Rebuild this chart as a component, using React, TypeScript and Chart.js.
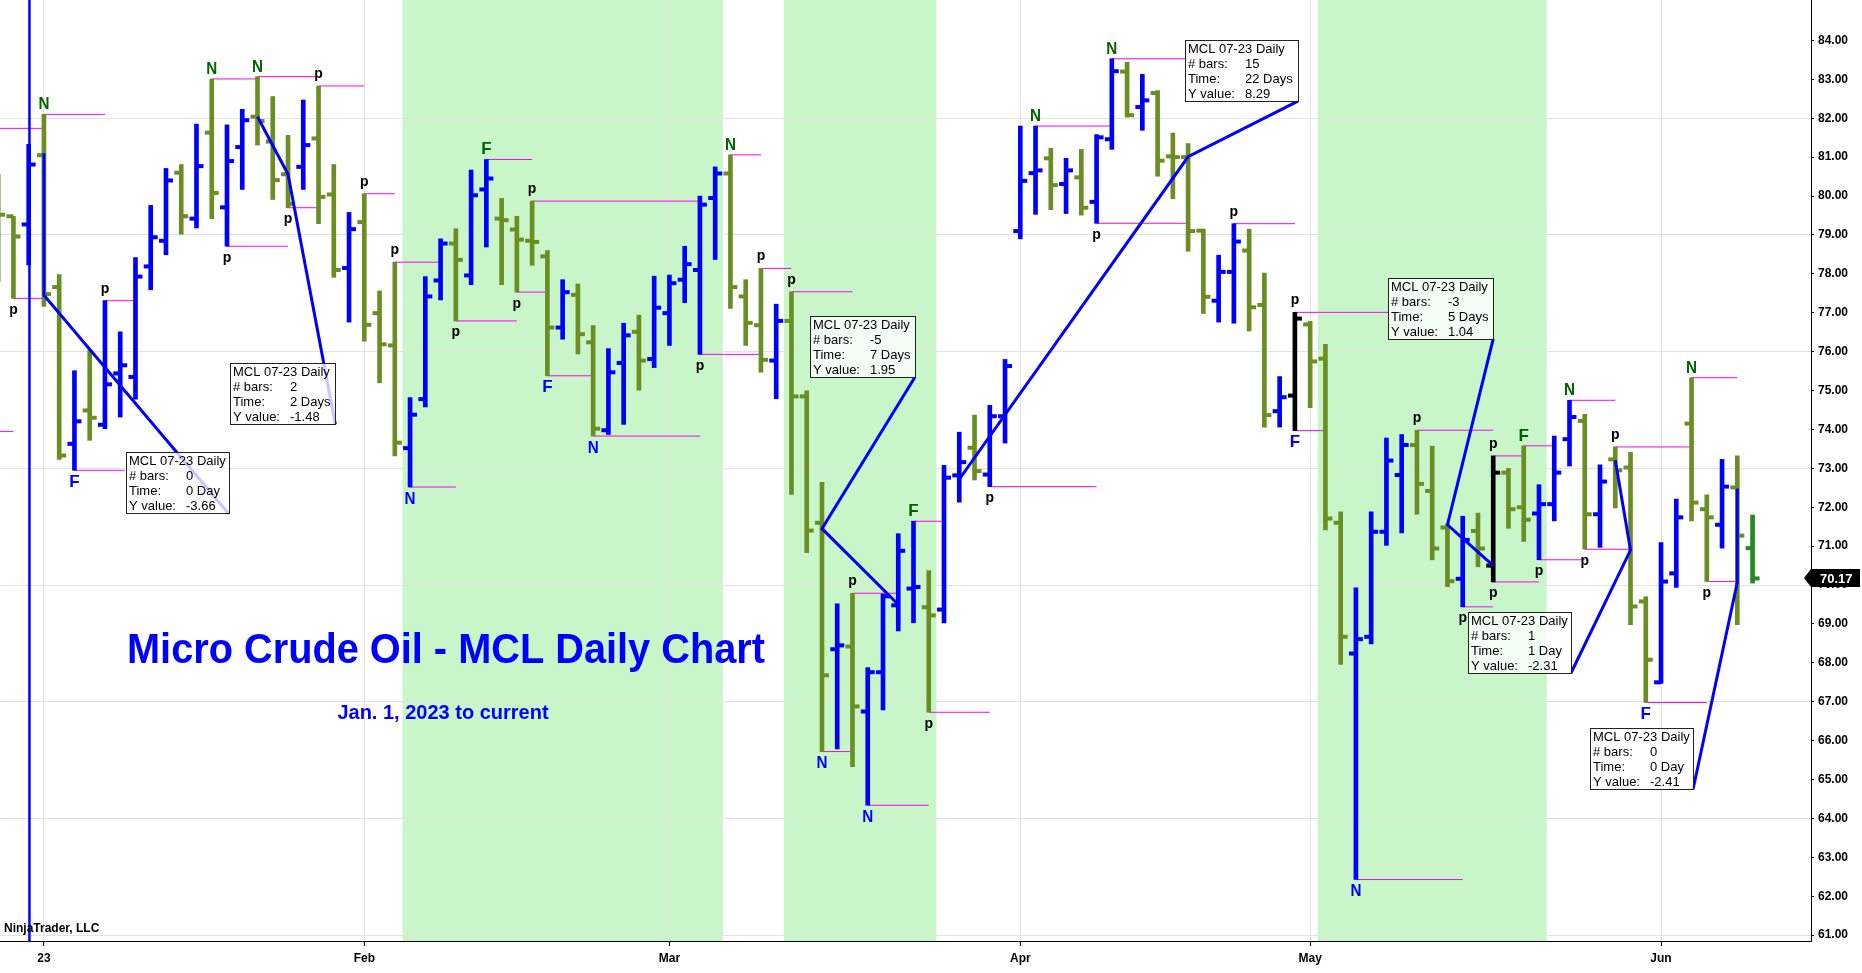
import { useEffect, useRef } from "react";
import { Chart, registerables } from "chart.js";

Chart.register(...registerables);

// bar index 0 = Jan 3 2023, three December bars before it
const FIRST_BAR = -3;

const opens = [
  80.3, 79.48, 79.27, 81.05, 77.66, 73.63, 74.49, 74.12, 75.44, 75.35,
  78.19, 78.85, 80.6, 79.42, 81.63, 79.71, 81.26, 82.04, 81.4, 80.56,
  80.75, 81.48, 80.04, 78.15, 79.33, 76.99, 76.16, 73.52, 74.78, 77.83,
  78.78, 77.96, 80.17, 79.42, 79.14, 78.85, 78.45, 76.62, 77.46, 76.24,
  73.98, 75.71, 76.51, 75.81, 76.99, 77.85, 78.1, 79.95, 80.58, 77.42,
  76.68, 75.77, 76.79, 74.85, 71.6, 68.35, 68.42, 66.75, 67.76, 69.48,
  69.91, 69.43, 69.37, 72.82, 73.53, 72.84, 74.34, 79.1, 80.59, 80.97,
  80.31, 80.48, 79.85, 81.46, 83.2, 82.29, 82.65, 81.02, 81.0, 79.11,
  77.31, 78.05, 78.6, 77.2, 74.47, 74.87, 76.7, 75.82, 71.6, 68.24,
  68.67, 71.37, 72.83, 73.6, 72.42, 71.48, 70.16, 71.39, 70.5, 72.89,
  72.0, 71.84, 72.08, 73.75, 74.22, 71.82, 73.23, 73.02, 69.58, 67.5,
  70.3, 74.15, 71.95, 71.55, 72.51, 70.95,
];
const highs = [
  80.56, 79.48, 81.33, 82.1, 77.98, 75.51, 76.04, 77.31, 76.51, 78.42,
  79.76, 80.71, 80.81, 81.85, 83.01, 81.83, 82.23, 83.07, 82.56, 81.56,
  82.47, 82.83, 80.81, 79.58, 80.06, 77.56, 78.3, 74.82, 77.93, 78.9,
  79.16, 80.67, 80.94, 79.94, 79.48, 79.87, 78.6, 77.85, 77.74, 76.67,
  76.08, 76.73, 76.94, 77.94, 77.97, 78.71, 80.0, 80.75, 81.06, 77.85,
  78.14, 77.22, 77.54, 74.99, 72.64, 69.52, 69.79, 67.88, 69.77, 71.32,
  71.64, 70.37, 73.08, 73.93, 74.37, 74.62, 75.8, 81.8, 81.8, 81.23,
  80.97, 81.2, 81.58, 83.53, 83.44, 83.13, 82.71, 81.62, 81.35, 79.15,
  78.48, 79.29, 79.15, 78.02, 75.36, 77.01, 76.78, 76.19, 71.88, 69.93,
  71.88, 73.78, 73.87, 73.98, 73.57, 71.57, 71.77, 71.85, 73.32, 73.0,
  73.58, 72.58, 73.83, 74.75, 74.39, 73.09, 73.55, 73.41, 69.7, 71.09,
  72.21, 75.33, 72.32, 73.23, 73.32, 71.8,
];
const lows = [
  77.8, 77.37, 78.23, 77.16, 73.23, 72.95, 73.72, 74.02, 74.32, 74.78,
  77.59, 78.49, 79.02, 79.18, 79.42, 78.71, 80.17, 81.31, 79.91, 79.7,
  80.17, 79.29, 77.91, 76.76, 76.27, 75.2, 73.32, 72.52, 74.58, 77.33,
  76.79, 77.72, 78.69, 77.72, 77.53, 78.22, 75.38, 76.32, 75.94, 73.83,
  73.87, 74.13, 75.01, 75.59, 76.16, 77.26, 75.93, 78.37, 77.11, 76.16,
  75.47, 74.79, 72.33, 70.83, 65.72, 65.79, 65.33, 64.34, 66.79, 68.82,
  69.03, 66.73, 69.03, 72.13, 72.7, 72.53, 73.65, 78.9, 79.53, 79.65,
  79.55, 79.51, 79.3, 81.2, 82.03, 81.69, 80.51, 79.93, 78.58, 76.98,
  76.76, 76.73, 76.53, 74.06, 74.06, 73.97, 74.56, 71.42, 67.96, 62.43,
  68.49, 71.02, 71.34, 71.82, 70.65, 69.96, 69.44, 70.47, 70.08, 71.46,
  71.12, 70.65, 71.65, 73.06, 70.92, 70.97, 71.98, 68.98, 66.98, 67.47,
  69.94, 71.65, 70.09, 70.95, 68.98, 70.05,
];
const closes = [
  79.52, 78.96, 80.81, 77.48, 73.33, 74.21, 74.3, 75.16, 75.65, 77.93,
  78.94, 80.4, 79.48, 80.77, 80.08, 80.9, 81.95, 81.93, 80.41, 79.8,
  81.31, 79.98, 78.1, 79.15, 76.69, 76.19, 73.66, 74.38, 77.42, 78.78,
  78.36, 80.02, 80.45, 79.38, 78.88, 78.82, 76.62, 77.53, 76.45, 74.02,
  75.47, 76.42, 75.77, 77.13, 77.76, 78.25, 79.78, 80.58, 77.66, 76.74,
  75.79, 76.79, 74.85, 71.4, 67.68, 68.45, 66.88, 67.76, 69.71, 70.88,
  69.95, 69.22, 72.76, 73.16, 72.93, 74.34, 75.63, 80.39, 80.66, 80.28,
  80.66, 79.7, 81.51, 83.21, 82.08, 82.46, 80.91, 81.0, 79.1, 77.41,
  78.05, 78.83, 77.14, 74.37, 74.83, 76.85, 75.75, 71.71, 68.67, 68.61,
  71.37, 73.2, 73.6, 72.6, 70.94, 70.1, 71.16, 70.94, 72.89, 71.95,
  71.68, 72.08, 72.89, 74.32, 71.82, 72.66, 72.95, 69.45, 68.08, 70.09,
  71.74, 72.12, 71.74, 72.53, 71.27, 70.17,
];
const blackBars = [82, 95];

const tickIdx = [0, 21, 41, 64, 83, 106];
const tickText = ["23", "Feb", "Mar", "Apr", "May", "Jun"];

const shadeFrom = [24, 49, 84];
const shadeTo = [44, 58, 98];

// magenta swing levels
const levelFrom = [-4, 0, -4, -2, 2, 4, 11, 14, 12, 16, 18, 21, 23, 24, 29, 27, 32, 31, 33, 36, 43, 45, 47, 49, 51, 53, 54, 57, 58, 62, 65, 69, 70, 78, 82, 82, 86, 90, 93, 95, 95, 97, 98, 100, 101, 103, 105, 108, 109];
const levelTo = [0, 4, -2, 0, 5.3, 6, 14, 18, 16, 18, 21, 23, 26, 27, 32, 31, 43, 33, 36, 43, 47, 47, 49, 53, 53, 56, 58, 59, 62, 69, 70, 75, 75, 82, 88.2, 84, 93, 95, 95, 97, 98, 99, 101, 103, 104, 108, 109, 111, 111];
const levelPrice = [81.74, 82.1, 73.95, 77.37, 72.95, 77.31, 83.01, 83.07, 78.71, 79.7, 82.83, 80.06, 78.3, 72.52, 80.94, 76.79, 79.87, 77.53, 75.38, 73.83, 75.93, 81.06, 78.14, 77.54, 65.72, 69.79, 64.34, 71.64, 66.73, 72.53, 81.8, 79.3, 83.53, 79.29, 77.01, 73.97, 62.43, 73.98, 69.44, 73.32, 70.08, 73.58, 70.65, 74.75, 70.92, 73.55, 66.98, 75.33, 70.09];

const pivotIdx = [-2, 0, 2, 4, 11, 12, 14, 16, 18, 21, 23, 24, 27, 29, 31, 32, 33, 36, 43, 45, 47, 49, 51, 53, 54, 57, 58, 62, 65, 69, 70, 78, 82, 82, 86, 90, 93, 95, 95, 97, 98, 100, 101, 103, 105, 108, 109];
const pivotText = ["p", "N", "F", "p", "N", "p", "N", "p", "p", "p", "p", "N", "p", "F", "p", "p", "F", "N", "p", "N", "p", "p", "N", "p", "N", "F", "p", "p", "N", "p", "N", "p", "p", "F", "N", "p", "p", "p", "p", "F", "p", "N", "p", "p", "F", "N", "p"];
const pivotAbove = [0, 1, 0, 1, 1, 0, 1, 0, 1, 1, 1, 0, 0, 1, 0, 1, 0, 0, 0, 1, 1, 1, 0, 1, 0, 1, 0, 0, 1, 0, 1, 1, 1, 0, 0, 1, 0, 1, 0, 1, 0, 1, 0, 1, 0, 1, 0];

// ruler lines: start, end, text box corner
const rulerX = [[0, 0, 12.1], [14, 16, 19.1], [56, 51, 57.1], [60, 75, 82.2], [95, 92, 95], [103, 104, 100.1], [111, 111, 108.1]];
const rulerY = [[81.1, 77.45, 71.84], [82.04, 80.56, 74.13], [69.5, 71.45, 75.35], [72.72, 81.01, 82.44], [70.5, 71.55, 76.33], [73.21, 70.9, 67.74], [72.48, 70.07, 64.75]];
const boxBars = ["0", "2", "-5", "15", "-3", "1", "0"];
const boxTime = ["0 Day", "2 Days", "7 Days", "22 Days", "5 Days", "1 Day", "0 Day"];
const boxY = ["-3.66", "-1.48", "1.95", "8.29", "1.04", "-2.31", "-2.41"];

const UP = "#0000FF";
const DOWN = "#6B8E23";
const FF = "'Liberation Sans', Arial, sans-serif";

function barColor(k: number) {
  const b = FIRST_BAR + k;
  if (k === closes.length - 1) return "#228B22";
  if (blackBars.includes(b)) return "#000000";
  return closes[k] >= opens[k] ? UP : DOWN;
}

// drop the label overflow padding chart.js adds around the plot
function noPad(s: any) {
  s.paddingTop = 0;
  s.paddingBottom = 0;
  s.paddingLeft = 0;
  s.paddingRight = 0;
}

const decor = {
  id: "decor",
  beforeDraw(chart: any) {
    const { ctx, chartArea: a } = chart;
    const x = chart.scales.x;
    ctx.save();
    ctx.fillStyle = "#fff";
    ctx.fillRect(0, 0, chart.width, chart.height);
    ctx.fillStyle = "#C8F6C8";
    shadeFrom.forEach((f, k) => {
      const x0 = x.getPixelForValue(f - 0.5);
      const x1 = x.getPixelForValue(shadeTo[k] + 0.5);
      ctx.fillRect(x0, a.top, x1 - x0, a.bottom - a.top);
    });
    ctx.restore();
  },
  afterDatasetsDraw(chart: any) {
    const { ctx, chartArea: a } = chart;
    const x = chart.scales.x;
    const y = chart.scales.y;
    ctx.save();
    ctx.textAlign = "center";
    ctx.textBaseline = "alphabetic";
    ctx.fillStyle = "#0000FF";
    ctx.font = `bold 42px ${FF}`;
    ctx.fillText("Micro Crude Oil - MCL Daily Chart", a.left + 446, a.top + 663, 638);
    ctx.font = `bold 20px ${FF}`;
    ctx.fillText("Jan. 1, 2023 to current", a.left + 443, a.top + 719);
    ctx.textAlign = "left";
    ctx.fillStyle = "#000";
    ctx.font = `bold 12px ${FF}`;
    ctx.fillText("NinjaTrader, LLC", a.left + 4, a.bottom - 9);

    // pivot letters
    ctx.textAlign = "center";
    pivotIdx.forEach((b, k) => {
      const j = b - FIRST_BAR;
      const up = pivotAbove[k] === 1;
      const px = x.getPixelForValue(b);
      const py = y.getPixelForValue(up ? highs[j] : lows[j]);
      if (pivotText[k] === "p") {
        ctx.font = `bold 14px ${FF}`;
        ctx.fillStyle = "#000";
        ctx.fillText("p", px, up ? py - 8 : py + 15.5);
      } else {
        ctx.font = `bold 17px ${FF}`;
        ctx.fillStyle = up ? "#006400" : "#0000FF";
        ctx.fillText(pivotText[k], px, up ? py - 5 : py + 16.5, 11);
      }
    });

    // ruler text boxes
    ctx.textAlign = "left";
    ctx.textBaseline = "middle";
    ctx.font = `13px ${FF}`;
    rulerX.forEach((rx, k) => {
      const right = Math.round(x.getPixelForValue(rx[2]));
      const bottom = Math.round(y.getPixelForValue(rulerY[k][2]));
      const rows = [["# bars:", boxBars[k]], ["Time:", boxTime[k]], ["Y value:", boxY[k]]];
      const title = "MCL 07-23 Daily";
      const w = Math.round(Math.max(ctx.measureText(title).width + 6, ...rows.map((r) => 60 + ctx.measureText(r[1]).width + 5)));
      const h = 61;
      const left = right - w;
      const top = bottom - h;
      ctx.fillStyle = "rgba(255,255,255,0.78)";
      ctx.fillRect(left, top, w, h);
      ctx.strokeStyle = "#222";
      ctx.lineWidth = 1;
      ctx.strokeRect(left + 0.5, top + 0.5, w, h);
      ctx.fillStyle = "#000";
      ctx.fillText(title, left + 3, top + 9);
      rows.forEach((r, n) => {
        ctx.fillText(r[0], left + 3, top + 24 + n * 15);
        ctx.fillText(r[1], left + 60, top + 24 + n * 15);
      });
    });
    ctx.restore();
  },
  afterDraw(chart: any) {
    const { ctx, chartArea: a } = chart;
    const y = chart.scales.y;
    const last = closes[closes.length - 1];
    const py = Math.round(y.getPixelForValue(last));
    const tip = a.right - 7;
    ctx.save();
    ctx.fillStyle = "#000";
    ctx.beginPath();
    ctx.moveTo(tip, py);
    ctx.lineTo(tip + 7, py - 9);
    ctx.lineTo(chart.width - 2, py - 9);
    ctx.lineTo(chart.width - 2, py + 9);
    ctx.lineTo(tip + 7, py + 9);
    ctx.closePath();
    ctx.fill();
    ctx.fillStyle = "#fff";
    ctx.font = `bold 13px ${FF}`;
    ctx.textBaseline = "middle";
    ctx.textAlign = "left";
    ctx.fillText(last.toFixed(2), tip + 16, py + 1);
    ctx.restore();
  },
};

export default function App() {
  const canvasRef = useRef<HTMLCanvasElement | null>(null);

  useEffect(() => {
    if (!canvasRef.current) return;

    const idx = closes.map((_, k) => FIRST_BAR + k);
    const colors = closes.map((_, k) => barColor(k));
    const tickOff = 0.229;

    const levelData: any[] = [];
    levelFrom.forEach((f, k) => {
      levelData.push({ x: f, y: levelPrice[k] }, { x: levelTo[k], y: levelPrice[k] }, { x: levelTo[k], y: null });
    });

    const rulerSets = rulerX.map((rx, k) => ({
      type: "line" as const,
      data: rx.map((v, n) => ({ x: v, y: rulerY[k][n] })),
      borderColor: "#0000FF",
      borderWidth: 3,
      pointRadius: 0,
      tension: 0,
      order: 0,
    }));

    const tickSet = (vals: number[], off: number) => ({
      type: "line" as const,
      data: idx.map((v, k) => ({ x: v + off, y: vals[k] })),
      showLine: false,
      pointStyle: "line",
      pointRadius: 3.5,
      pointHoverRadius: 0,
      pointBorderWidth: 4,
      pointBorderColor: colors,
      pointBackgroundColor: colors,
      order: 2,
    });

    const chart = new Chart(canvasRef.current, {
      type: "bar",
      data: {
        datasets: [
          ...rulerSets,
          {
            type: "line",
            data: [{ x: -0.95, y: 60 }, { x: -0.95, y: 86 }],
            borderColor: "#0000FF",
            borderWidth: 2.5,
            pointRadius: 0,
            order: 1,
          },
          tickSet(opens, -tickOff),
          tickSet(closes, tickOff),
          {
            type: "bar",
            data: idx.map((v, k) => ({ x: v, y: [lows[k], highs[k]] })),
            backgroundColor: colors,
            barThickness: 4,
            borderWidth: 0,
            grouped: false,
            order: 3,
          },
          {
            type: "line",
            data: levelData,
            borderColor: "#FF00FF",
            borderWidth: 1,
            pointRadius: 0,
            spanGaps: false,
            order: 4,
          },
        ] as any,
      },
      options: {
        animation: false,
        responsive: false,
        devicePixelRatio: 1,
        layout: { padding: 0, autoPadding: false },
        plugins: { legend: { display: false }, tooltip: { enabled: false } },
        scales: {
          x: {
            type: "linear",
            min: -2.88,
            max: 115.83,
            offset: false,
            afterBuildTicks: (s: any) => {
              s.ticks = tickIdx.map((v) => ({ value: v }));
            },
            afterFit: (s: any) => {
              s.height = 32;
              noPad(s);
            },
            ticks: {
              autoSkip: false,
              maxRotation: 0,
              padding: 5,
              color: "#000",
              font: { family: FF, size: 12, weight: "bold" },
              callback: (v: any) => tickText[tickIdx.indexOf(Number(v))] ?? "",
            },
            grid: { color: "#e2e2e2", tickColor: "#000", tickLength: 5, offset: false },
            border: { display: true, color: "#000", width: 1 },
          },
          y: {
            type: "linear",
            position: "right",
            min: 60.85,
            max: 85.04,
            afterBuildTicks: (s: any) => {
              const t = [];
              for (let v = 61; v <= 84; v++) t.push({ value: v });
              s.ticks = t;
            },
            afterFit: (s: any) => {
              s.width = 51;
              noPad(s);
            },
            ticks: {
              padding: 4,
              color: "#000",
              font: { family: FF, size: 12, weight: "bold" },
              callback: (v: any) => Number(v).toFixed(2),
            },
            grid: {
              color: (c: any) => ((c.tick.value - 61) % 3 === 0 ? "#e2e2e2" : "rgba(0,0,0,0)"),
              tickColor: "#000",
              tickLength: 3,
            },
            border: { display: true, color: "#000", width: 1 },
          },
        },
      },
      plugins: [decor],
    });

    return () => {
      chart.destroy();
    };
  }, []);

  return (
    <div style={{ position: "fixed", left: 0, top: 0, width: 1862, height: 973, background: "#fff" }}>
      <canvas ref={canvasRef} width={1862} height={973} style={{ display: "block" }} />
    </div>
  );
}
